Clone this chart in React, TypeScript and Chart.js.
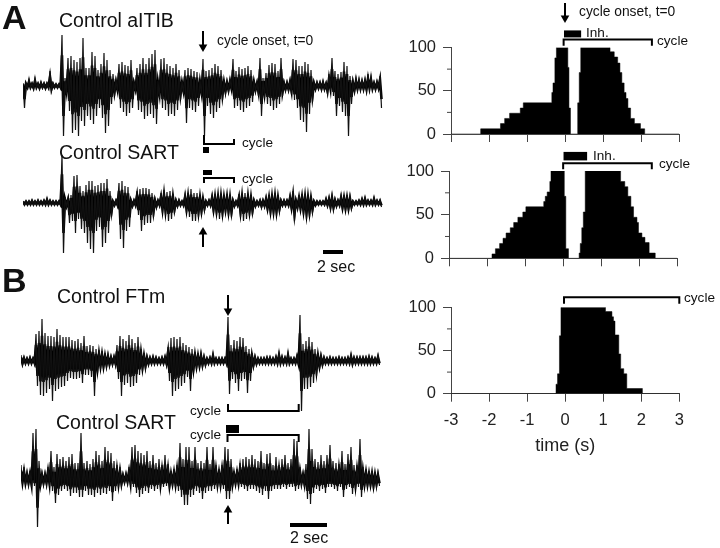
import React, { useEffect, useRef } from "react";
import { Chart, registerables } from "chart.js";

Chart.register(...registerables);

const FONT = "'Liberation Sans', Arial, sans-serif";

// Histograms: time (s) where each step starts, and % of cycles active from there on
const histATimes = [-2.22, -1.70, -1.59, -1.46, -1.18, -1.10, -0.35, -0.32, -0.27, -0.23, 0.07, 0.10, 0.14, 0.33, 0.37, 0.41, 1.18, 1.29, 1.38, 1.44, 1.49, 1.55, 1.60, 1.65, 1.72, 1.82, 1.98, 2.09];
const histAValues = [6, 12, 18, 24, 30, 36, 48, 59, 88, 100, 77, 30, 0, 36, 71, 100, 95, 89, 82, 71, 59, 48, 41, 30, 18, 12, 6, 0];
const histBTimes = [-1.87, -1.78, -1.67, -1.58, -1.50, -1.39, -1.30, -1.19, -1.06, -0.98, -0.51, -0.47, -0.42, -0.35, -0.32, 0.03, 0.07, 0.14, 0.42, 0.45, 0.49, 0.53, 0.58, 1.51, 1.62, 1.70, 1.78, 1.85, 1.94, 1.98, 2.07, 2.15, 2.26, 2.42];
const histBValues = [5, 11, 17, 23, 29, 35, 41, 47, 53, 59, 65, 71, 76, 88, 100, 71, 11, 0, 6, 17, 35, 53, 100, 88, 82, 71, 59, 47, 41, 29, 24, 18, 6, 0];
const histCTimes = [-0.24, -0.20, -0.15, -0.11, 1.06, 1.23, 1.27, 1.31, 1.41, 1.46, 1.54, 1.62, 2.03];
const histCValues = [11, 23, 67, 100, 95, 89, 84, 68, 46, 29, 23, 6, 0];

const yTicks = [0, 25, 50, 75, 100];
const xTicks = [-3, -2, -1, 0, 1, 2, 3];

// Recordings: upward and downward excursion per sample window
const traceA1Up = [3,3,7,3,8,3,4,3,3,15,3,2,2,51,8,28,30,26,24,28,48,18,18,34,30,16,22,33,26,16,12,6,22,24,21,20,26,4,18,22,28,22,28,32,36,5,27,28,22,20,18,22,16,5,16,18,17,15,14,6,27,15,16,18,22,20,16,6,5,7,27,15,19,17,18,20,16,6,4,28,8,13,21,23,22,15,28,4,4,6,27,26,20,20,24,22,16,4,4,4,5,3,12,28,15,12,14,24,20,10,5,8,7,6,7,12,10,4,5,10];
const traceA1Down = [22,2,2,3,2,3,2,3,2,5,2,2,2,50,8,25,47,44,50,35,40,30,34,38,30,22,32,47,40,18,10,6,22,26,30,27,22,5,24,26,33,30,28,32,38,12,22,24,30,28,30,24,14,8,37,22,24,26,20,10,50,20,28,32,26,22,14,8,6,4,22,20,24,26,22,20,16,6,10,30,12,18,20,24,22,18,10,5,5,8,14,22,34,36,46,28,16,4,3,4,4,8,4,10,30,20,26,30,50,18,6,4,4,4,5,3,4,4,3,22];
const traceA2Up = [2,2,2,3,2,3,2,3,5,3,2,2,2,48,6,5,8,27,28,17,12,18,22,22,17,18,20,20,24,12,2,3,20,22,17,16,3,3,12,14,15,15,14,10,4,3,10,13,11,12,9,3,3,2,9,10,14,10,10,8,6,2,3,8,9,9,9,8,9,8,3,2,9,9,10,9,8,3,2,3,3,6,8,9,10,8,3,3,3,8,12,3,8,9,9,8,7,2,2,2,2,5,6,8,4,3,8,8,8,7,2,2,3,5,6,3,3,6,3,3];
const traceA2Down = [2,2,2,2,2,2,2,2,2,2,2,2,2,50,4,20,18,30,16,26,30,40,46,50,28,24,44,40,30,14,3,3,36,45,28,24,4,3,12,28,22,20,20,14,5,3,10,12,18,16,10,4,3,3,10,14,18,18,14,12,8,3,3,10,12,16,14,10,13,14,4,3,14,18,16,13,12,4,3,5,4,8,12,12,13,9,3,3,3,7,18,6,8,12,16,14,10,3,2,2,2,3,6,7,4,3,7,8,8,6,2,2,2,2,2,2,2,2,2,4];
const traceB1Up = [6,4,3,4,3,27,30,42,28,25,25,24,32,26,24,24,24,21,20,22,18,25,15,16,15,12,11,10,8,7,5,5,16,25,22,20,26,22,18,24,12,8,5,4,5,4,3,4,5,14,23,24,22,24,18,16,14,12,9,8,8,5,3,4,8,3,3,3,3,44,16,21,20,24,23,15,12,8,5,3,3,3,4,4,3,5,9,5,4,9,3,3,6,46,17,20,24,19,12,8,6,4,3,4,3,3,4,3,3,4,7,4,4,4,4,4,5,4,3,6];
const traceB1Down = [4,3,3,3,3,25,34,35,32,28,40,30,28,26,25,20,17,18,18,17,22,14,14,16,35,12,8,8,6,5,4,4,18,35,24,22,26,25,22,14,10,8,4,3,3,3,3,3,4,20,35,30,28,25,22,16,30,12,8,7,6,5,3,3,3,3,3,3,3,33,18,22,30,20,18,32,20,6,4,3,3,3,3,3,3,3,3,3,3,3,3,3,4,50,28,28,26,22,15,8,5,3,3,3,3,3,3,3,3,3,4,3,3,3,3,3,3,3,3,4];
const traceB2Up = [14,12,7,8,46,50,18,6,6,12,28,12,25,20,22,18,22,25,16,16,46,16,18,15,20,28,24,18,32,28,26,18,14,12,5,6,12,32,34,28,26,24,28,18,24,16,20,14,24,15,8,10,14,36,20,32,32,18,32,16,18,16,32,15,32,14,10,14,32,30,20,8,10,16,20,22,20,24,20,18,28,16,25,26,14,22,14,20,24,16,20,40,38,12,6,15,50,30,20,17,24,18,24,34,18,16,15,28,15,25,32,14,14,40,12,10,8,8,7,6];
const traceB2Down = [5,6,6,8,7,48,8,6,6,7,12,24,16,12,10,12,17,14,14,18,18,12,16,16,18,14,16,14,15,12,22,12,8,7,4,4,6,8,14,18,15,12,14,10,12,10,8,8,7,10,7,8,12,18,26,26,18,16,12,14,20,14,12,12,10,8,8,10,20,20,8,6,6,8,10,12,10,10,12,14,16,12,20,12,10,10,10,8,10,8,8,12,10,6,8,20,25,14,10,12,10,14,8,8,10,12,8,18,10,8,15,10,8,18,8,8,8,10,8,7];

const titleA1 = "Control aITIB";
const titleSart = "Control SART";
const titleB1 = "Control FTm";
const onsetLabel = "cycle onset, t=0";
const cycleLabel = "cycle";
const inhLabel = "Inh.";
const scaleLabel = "2 sec";
const timeTitle = "time (s)";

function line(points: number[][], width: number, extra: any = {}) {
  return {
    type: "scatter",
    showLine: true,
    data: points.map(([x, y]) => ({ x, y })),
    borderColor: "#000",
    borderWidth: width,
    pointRadius: 0,
    clip: false,
    ...extra,
  };
}

function makeHist(
  canvas: HTMLCanvasElement,
  times: number[],
  values: number[],
  top: number,
  bottom: number,
  bracket: number[],
  inh: number[] | null,
  labelled: boolean
) {
  const area = [{ x: -3, y: 0 }, ...times.map((t, i) => ({ x: t, y: values[i] })), { x: 3, y: 0 }];
  const datasets: any[] = [
    {
      type: "scatter",
      showLine: true,
      data: area,
      stepped: "before",
      fill: "origin",
      backgroundColor: "#000",
      borderColor: "#000",
      borderWidth: 0.5,
      pointRadius: 0,
    },
    line(
      [
        [bracket[0], bracket[3]],
        [bracket[0], bracket[2]],
        [bracket[1], bracket[2]],
        [bracket[1], bracket[3]],
      ],
      2
    ),
  ];
  if (inh) datasets.push(line([[inh[0], inh[2]], [inh[1], inh[2]]], inh[3]));
  const minorTicks = {
    id: "minorTicks",
    afterDatasetsDraw(c: any) {
      const ctx = c.ctx;
      const s = c.scales.y;
      ctx.save();
      ctx.strokeStyle = "#444";
      ctx.lineWidth = 1;
      [25, 75].forEach((v) => {
        const p = s.getPixelForValue(v);
        ctx.beginPath();
        ctx.moveTo(s.right - 4, p);
        ctx.lineTo(s.right, p);
        ctx.stroke();
      });
      ctx.restore();
    },
  };
  return new Chart(canvas, {
    type: "scatter",
    data: { datasets },
    plugins: [minorTicks],
    options: {
      animation: false,
      responsive: false,
      events: [],
      layout: { autoPadding: false, padding: { top, right: 40.7, left: 0, bottom: 0 } },
      plugins: { legend: { display: false }, tooltip: { enabled: false } },
      scales: {
        x: {
          type: "linear",
          min: -3,
          max: 3,
          afterBuildTicks: (s: any) => {
            s.ticks = xTicks.map((value) => ({ value }));
          },
          afterFit: (s: any) => {
            s.height = bottom;
            s.paddingLeft = 0;
            s.paddingRight = 0;
          },
          border: { color: "#444", width: 1 },
          grid: { drawOnChartArea: false, tickLength: 8, tickColor: "#444", tickWidth: 1 },
          ticks: {
            display: labelled,
            font: { family: FONT, size: 16.5 },
            color: "#222",
            padding: 9,
            maxRotation: 0,
            callback: (v: any) => String(v),
          },
          title: {
            display: labelled,
            text: timeTitle,
            font: { family: FONT, size: 18 },
            color: "#222",
            padding: { top: 6, bottom: 0 },
          },
        },
        y: {
          type: "linear",
          min: 0,
          max: 100,
          afterBuildTicks: (s: any) => {
            s.ticks = yTicks.map((value) => ({ value }));
          },
          afterFit: (s: any) => {
            s.width = 51;
            s.paddingTop = 0;
            s.paddingBottom = 0;
          },
          border: { color: "#444", width: 1 },
          grid: {
            drawOnChartArea: false,
            tickLength: 8,
            tickColor: (c: any) => (c.tick && c.tick.value % 50 === 0 ? "#444" : "rgba(0,0,0,0)"),
          },
          ticks: {
            font: { family: FONT, size: 16.5 },
            color: "#222",
            padding: 7,
            callback: (v: any) => (Number(v) % 50 === 0 ? String(v) : ""),
          },
        },
      },
    } as any,
  } as any);
}

function makeTrace(canvas: HTMLCanvasElement, up: number[], down: number[]) {
  const spikes: { x: number; y: number }[] = [];
  const core: { x: number; y: number }[] = [];
  up.forEach((u, i) => {
    spikes.push({ x: i, y: u });
    spikes.push({ x: i + 0.5, y: -down[i] });
    core.push({ x: i, y: u * 0.6 });
    core.push({ x: i + 0.5, y: -down[i] * 0.6 });
  });
  return new Chart(canvas, {
    type: "scatter",
    data: {
      datasets: [
        { showLine: true, data: spikes, borderColor: "#111", borderWidth: 1.2, pointRadius: 0 },
        { showLine: true, data: core, borderColor: "#000", borderWidth: 2.6, pointRadius: 0 },
      ],
    },
    options: {
      animation: false,
      responsive: false,
      events: [],
      layout: { autoPadding: false, padding: 0 },
      plugins: { legend: { display: false }, tooltip: { enabled: false } },
      scales: {
        x: { type: "linear", min: 0, max: 120, display: false },
        y: { type: "linear", min: -55, max: 55, display: false },
      },
    } as any,
  } as any);
}

type Lbl = [string, number, number, number, boolean?];
const pageLabels: Lbl[] = [
  ["A", 2, 29, 34, true],
  ["B", 2, 292, 34, true],
  [titleA1, 59, 27, 19.5],
  [titleSart, 59, 159, 19.5],
  [titleB1, 57, 303, 19.5],
  [titleSart, 56, 429, 19.5],
  [onsetLabel, 217, 45, 13.8],
  [onsetLabel, 579, 16, 13.8],
  [cycleLabel, 242, 147, 13.6],
  [cycleLabel, 242, 183, 13.6],
  [cycleLabel, 190, 415, 13.6],
  [cycleLabel, 190, 439, 13.6],
  [cycleLabel, 657, 45, 13.6],
  [cycleLabel, 659, 168, 13.6],
  [cycleLabel, 684, 302, 13.6],
  [inhLabel, 586, 37, 13.6],
  [inhLabel, 593, 160, 13.6],
  [scaleLabel, 317, 272, 16],
  [scaleLabel, 290, 543, 16],
];

function arrow(x: number, tip: number, tail: number, down: boolean): any[] {
  const headY = down ? tip - 4 : tip + 4;
  return [
    line([[x, tail], [x, headY]], 2),
    line([[x, headY]], 0, {
      pointStyle: "triangle",
      pointRadius: 5,
      pointRotation: down ? 180 : 0,
      pointBackgroundColor: "#000",
      pointBorderWidth: 0,
    }),
  ];
}

function makeOverlay(canvas: HTMLCanvasElement) {
  const textPlugin = {
    id: "pageText",
    afterDatasetsDraw(c: any) {
      const ctx = c.ctx;
      ctx.save();
      ctx.fillStyle = "#111";
      ctx.textBaseline = "alphabetic";
      pageLabels.forEach(([t, x, y, size, bold]) => {
        ctx.font = `${bold ? "bold " : ""}${size}px ${FONT}`;
        ctx.fillText(t, x, y);
      });
      ctx.restore();
    },
  };
  const datasets: any[] = [
    ...arrow(203, 51, 31, true),
    ...arrow(203, 228, 247, false),
    ...arrow(228, 315, 295, true),
    ...arrow(228, 506, 524, false),
    ...arrow(565, 22, 3, true),
    line([[204, 135], [204, 144], [234, 144], [234, 139]], 2),
    line([[203, 150], [209, 150]], 6),
    line([[203, 172.5], [212, 172.5]], 5),
    line([[204, 183], [204, 178], [234, 178], [234, 183]], 2),
    line([[323, 252], [343, 252]], 4),
    line([[228, 404], [228, 411], [298.7, 411], [298.7, 404]], 2),
    line([[226, 429], [239, 429]], 8),
    line([[227.5, 442], [227.5, 435], [298.7, 435], [298.7, 442]], 2),
    line([[290, 525], [327, 525]], 4),
  ];
  return new Chart(canvas, {
    type: "scatter",
    data: { datasets },
    plugins: [textPlugin],
    options: {
      animation: false,
      responsive: false,
      events: [],
      layout: { autoPadding: false, padding: 0 },
      plugins: { legend: { display: false }, tooltip: { enabled: false } },
      scales: {
        x: { type: "linear", min: 0, max: 720, display: false },
        y: { type: "linear", min: 0, max: 548, reverse: true, display: false },
      },
    } as any,
  } as any);
}

const boxes = [
  { left: 400, top: 0, width: 320, height: 160 },
  { left: 398.3, top: 145, width: 320, height: 140 },
  { left: 400, top: 280, width: 320, height: 177 },
  { left: 22.67, top: 31, width: 360, height: 110 },
  { left: 22.67, top: 147.7, width: 360, height: 110 },
  { left: 20.67, top: 305.7, width: 360, height: 110 },
  { left: 20.67, top: 424, width: 360, height: 110 },
  { left: 0, top: 0, width: 720, height: 548 },
];

export default function App() {
  const refs = useRef<(HTMLCanvasElement | null)[]>([]);
  useEffect(() => {
    document.body.style.margin = "0";
    document.body.style.background = "#fff";
    const c = refs.current as HTMLCanvasElement[];
    const charts = [
      makeHist(c[0], histATimes, histAValues, 47.5, 26, [-0.04, 2.28, 109.2, 102], [-0.03, 0.42, 115.7, 7], false),
      makeHist(c[1], histBTimes, histBValues, 26, 26.7, [0, 2.33, 108.8, 102], [0.01, 0.63, 117, 8.5], false),
      makeHist(c[2], histCTimes, histCValues, 27.3, 63.3, [-0.03, 3, 111.6, 104], null, true),
      makeTrace(c[3], traceA1Up, traceA1Down),
      makeTrace(c[4], traceA2Up, traceA2Down),
      makeTrace(c[5], traceB1Up, traceB1Down),
      makeTrace(c[6], traceB2Up, traceB2Down),
      makeOverlay(c[7]),
    ];
    return () => charts.forEach((ch) => ch.destroy());
  }, []);
  return (
    <div style={{ position: "absolute", left: 0, top: 0, width: 720, height: 548, background: "#fff", overflow: "hidden" }}>
      {boxes.map((b, i) => (
        <canvas
          key={i}
          ref={(el) => {
            refs.current[i] = el;
          }}
          width={b.width}
          height={b.height}
          style={{ position: "absolute", left: b.left, top: b.top, width: b.width, height: b.height }}
        />
      ))}
    </div>
  );
}
